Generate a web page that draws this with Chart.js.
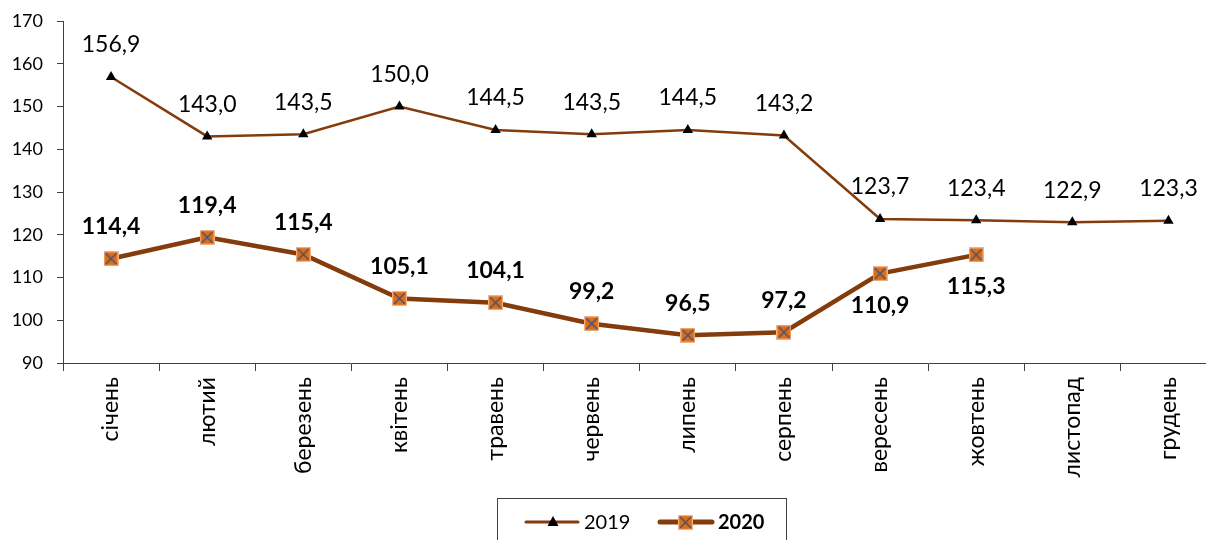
<!DOCTYPE html>
<html><head><meta charset="utf-8">
<script src="https://cdn.jsdelivr.net/npm/chart.js@4"></script>
<style>html,body{margin:0;padding:0;background:#fff;overflow:hidden}</style>
</head><body>
<canvas id="c" width="1228" height="540" style="display:block;width:1228px;height:540px"></canvas>
<script>
const categories = ['січень','лютий','березень','квітень','травень','червень','липень','серпень','вересень','жовтень','листопад','грудень'];
const values2019 = [156.9,143.0,143.5,150.0,144.5,143.5,144.5,143.2,123.7,123.4,122.9,123.3];
const values2020 = [114.4,119.4,115.4,105.1,104.1,99.2,96.5,97.2,110.9,115.3,null,null];
const seriesNames = ['2019','2020'];
const yMin = 90, yMax = 170, yStep = 10;
const labelsBelow2020 = [8, 9];

const LINE = '#843C0C';
const FONT = 'Lato, "Noto Sans", sans-serif';

function squareX(size){
  const c = document.createElement('canvas'); c.width = size; c.height = size;
  const g = c.getContext('2d');
  g.fillStyle = '#E46C0A'; g.fillRect(0,0,size,size);
  g.strokeStyle = '#F4B183'; g.lineWidth = 1.2; g.strokeRect(0.6,0.6,size-1.2,size-1.2);
  g.strokeStyle = '#2F5597'; g.lineWidth = 1.4;
  g.beginPath(); g.moveTo(2,2); g.lineTo(size-2,size-2); g.moveTo(size-2,2); g.lineTo(2,size-2); g.stroke();
  return c;
}
const marker2020 = squareX(15);
const fmt = v => v.toFixed(1).replace('.', ',');

const labelPlugin = {
  id: 'valLabels',
  afterDatasetsDraw(chart){
    const ctx = chart.ctx;
    ctx.save();
    ctx.textAlign = 'center'; ctx.textBaseline = 'middle'; ctx.fillStyle = '#000';
    chart.data.datasets.forEach((ds, di) => {
      const meta = chart.getDatasetMeta(di);
      ctx.font = (di === 1 ? 'bold ' : '') + '23px ' + FONT;
      meta.data.forEach((pt, i) => {
        const v = ds.data[i];
        if (v == null) return;
        const below = di === 1 && labelsBelow2020.includes(i);
        ctx.fillText(fmt(v), pt.x, pt.y + (below ? 32 : -32));
      });
    });
    ctx.restore();
  }
};

const legendPlugin = {
  id: 'customLegend',
  afterDraw(chart){
    const ctx = chart.ctx;
    ctx.save();
    ctx.strokeStyle = '#404040'; ctx.lineWidth = 1;
    ctx.strokeRect(497.5, 498.5, 289, 50);
    const cy = 522;
    ctx.strokeStyle = LINE; ctx.lineWidth = 3; ctx.lineCap = 'round';
    ctx.beginPath(); ctx.moveTo(526, cy); ctx.lineTo(578, cy); ctx.stroke();
    ctx.fillStyle = '#000';
    ctx.beginPath(); ctx.moveTo(553, cy-6); ctx.lineTo(558.5, cy+4); ctx.lineTo(547.5, cy+4); ctx.closePath(); ctx.fill();
    ctx.font = '20px ' + FONT; ctx.textBaseline = 'middle'; ctx.textAlign = 'left';
    ctx.fillText(seriesNames[0], 584, cy+1);
    ctx.strokeStyle = LINE; ctx.lineWidth = 5;
    ctx.beginPath(); ctx.moveTo(660, cy); ctx.lineTo(712, cy); ctx.stroke();
    ctx.drawImage(marker2020, 678, cy-7);
    ctx.font = 'bold 20px ' + FONT;
    ctx.fillText(seriesNames[1], 718, cy+1);
    ctx.restore();
  }
};

new Chart(document.getElementById('c'), {
  type: 'line',
  data: {
    labels: categories,
    datasets: [
      { label: seriesNames[0], data: values2019, borderColor: LINE, borderWidth: 2.5,
        pointStyle: 'triangle', pointRadius: 6, pointBackgroundColor: '#000', pointBorderColor: '#000', pointBorderWidth: 0,
        tension: 0, spanGaps: false },
      { label: seriesNames[1], data: values2020, borderColor: LINE, borderWidth: 4.5,
        pointStyle: marker2020, pointRadius: 7, tension: 0, spanGaps: false }
    ]
  },
  options: {
    responsive: false, animation: false, devicePixelRatio: 1,
    layout: { padding: { top: 21, left: 0, right: 0, bottom: 0 } },
    plugins: { legend: { display: false }, tooltip: { enabled: false } },
    scales: {
      x: {
        offset: true,
        grid: { offset: true, drawOnChartArea: false, drawTicks: true, tickLength: 8, color: '#404040' },
        border: { display: true, color: '#404040', width: 1 },
        ticks: { autoSkip: false, maxRotation: 90, minRotation: 90, padding: 6, color: '#000', font: { family: FONT, size: 23 } },
        afterFit(s){ s.height = 177; }
      },
      y: {
        min: yMin, max: yMax,
        grid: { drawOnChartArea: false, drawTicks: true, tickLength: 6, color: '#404040' },
        border: { display: true, color: '#404040', width: 1 },
        ticks: { stepSize: yStep, padding: 14, color: '#000', font: { family: FONT, size: 18 } },
        afterFit(s){ s.width = 63; s.paddingTop = 0; s.paddingBottom = 0; }
      }
    }
  },
  plugins: [labelPlugin, legendPlugin]
});
</script>
</body></html>
